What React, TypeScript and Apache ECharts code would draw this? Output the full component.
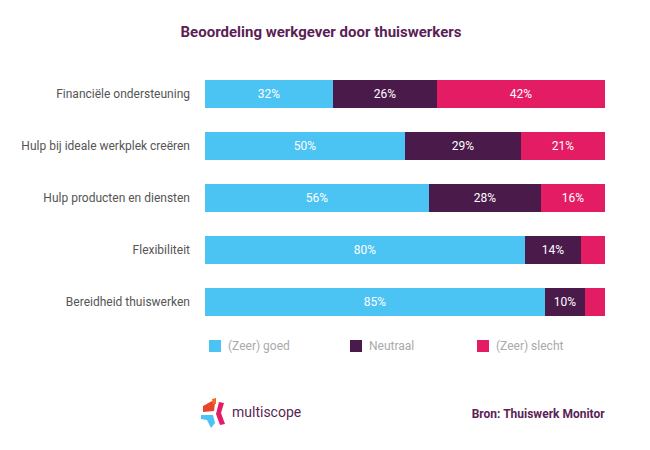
import React, { useEffect, useRef } from "react";
import * as echarts from "echarts";

const categories = [
  "Financiële ondersteuning",
  "Hulp bij ideale werkplek creëren",
  "Hulp producten en diensten",
  "Flexibiliteit",
  "Bereidheid thuiswerken",
];
const seriesNames = ["(Zeer) goed", "Neutraal", "(Zeer) slecht"];
const goed = [32, 50, 56, 80, 85];
const neutraal = [26, 29, 28, 14, 10];
const slecht = [42, 21, 16, 6, 5];
const colors = ["#4BC3F3", "#4A1A4B", "#E41C64"];
const titleText = "Beoordeling werkgever door thuiswerkers";
const sourceText = "Bron: Thuiswerk Monitor";
const logoText = "multiscope";

const FONT = "Roboto, 'Noto Sans', sans-serif";

export default function App() {
  const ref = useRef<HTMLDivElement>(null);
  useEffect(() => {
    if (!ref.current) return;
    const chart = echarts.init(ref.current, null, { renderer: "svg" });
    const values = [goed, neutraal, slecht];
    const series = seriesNames.map((name, i) => ({
      name,
      type: "bar",
      stack: "total",
      barWidth: 28,
      data: values[i],
      itemStyle: { color: colors[i] },
      label: {
        show: true,
        position: "inside",
        color: "#ffffff",
        fontSize: 12,
        fontFamily: FONT,
        formatter: (p: any) => (p.value >= 8 ? p.value + "%" : ""),
      },
    }));
    const legendX = [204, 345, 472];
    chart.setOption({
      animation: false,
      textStyle: { fontFamily: FONT },
      title: {
        text: titleText,
        left: 316,
        top: 19,
        textAlign: "center",
        textStyle: {
          color: "#5B1F57",
          fontSize: 15,
          fontWeight: "bold",
          fontFamily: FONT,
        },
      },
      legend: seriesNames.map((n, i) => ({
        data: [n],
        left: legendX[i],
        top: 335,
        itemWidth: 12,
        itemHeight: 12,
        itemGap: 0,
        icon: "rect",
        textStyle: { color: "#aaaaaa", fontSize: 12, fontFamily: FONT, padding: [0, 0, 0, 2] },
        selectedMode: false,
      })),
      grid: { left: 205, right: 45, top: 68, height: 260, containLabel: false },
      xAxis: {
        type: "value",
        min: 0,
        max: 100,
        show: false,
      },
      yAxis: {
        type: "category",
        data: categories,
        inverse: true,
        axisLine: { show: false },
        axisTick: { show: false },
        axisLabel: {
          color: "#555555",
          fontSize: 12,
          fontFamily: FONT,
          margin: 15,
        },
      },
      series,
      graphic: [
        {
          type: "polygon",
          shape: { points: [[203, 406], [212, 401], [215, 403], [214, 411], [203, 412]] },
          style: { fill: "#E8452C" },
        },
        {
          type: "polygon",
          shape: { points: [[212, 399], [216, 398], [216, 404], [213, 404]] },
          style: { fill: "#F26A21" },
        },
        {
          type: "polygon",
          shape: { points: [[219, 402], [224, 403], [221, 413], [225, 424], [220, 425], [216, 414]] },
          style: { fill: "#E41C64" },
        },
        {
          type: "polygon",
          shape: { points: [[201, 415], [213, 415], [215, 423], [211, 428], [207, 420], [201, 419]] },
          style: { fill: "#4BC3F3" },
        },
        {
          type: "text",
          left: 232,
          top: 405,
          style: {
            text: logoText,
            fill: "#5B1F57",
            fontSize: 14,
            fontFamily: FONT,
          },
        },
        {
          type: "text",
          right: 45,
          top: 408,
          style: {
            text: sourceText,
            fill: "#5B1F57",
            fontSize: 12,
            fontWeight: "bold",
            fontFamily: FONT,
          },
        },
      ],
    });
    return () => chart.dispose();
  }, []);
  return (
    <div
      ref={ref}
      style={{ position: "absolute", left: 0, top: 0, width: 650, height: 450 }}
    />
  );
}
